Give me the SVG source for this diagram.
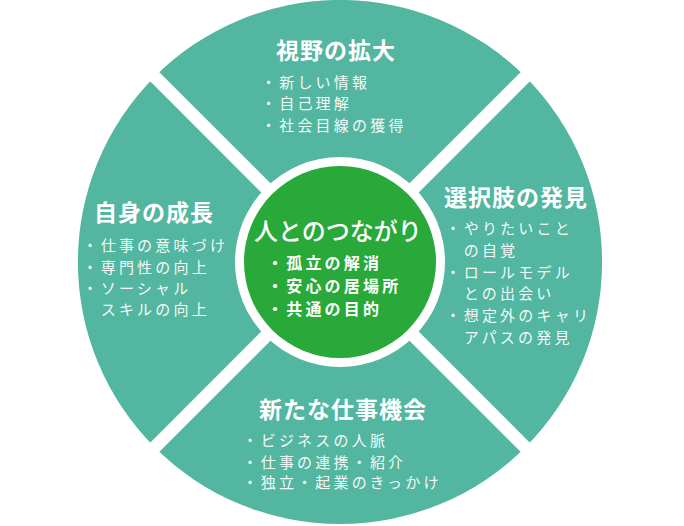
<svg xmlns="http://www.w3.org/2000/svg" width="684" height="526" viewBox="0 0 684 526">
<style>
.sector{fill:#52B6A0}
.sep{stroke:#FFFFFF;stroke-width:13;fill:none}
text{font-family:"Noto Sans CJK JP","Noto Sans CJK SC",sans-serif;fill:#FFFFFF}
.title{font-size:23px;font-weight:700;letter-spacing:1px}
.item{font-size:15px;font-weight:400;letter-spacing:3.2px;fill:#F4FAF8}
.ctitle{font-size:24px;font-weight:500}
.citem{font-size:16px;font-weight:700;letter-spacing:3.2px}
</style>
<rect width="684" height="526" fill="#FFFFFF"/>
<g id="node-top">
<path class="sector" d="M340,262 L154.7,76.7 A262,262 0 0 1 525.3,76.7 Z"/>
<text class="title" x="276" y="59">視野の拡大</text>
<text class="item" x="261" y="87.7">・新しい情報</text>
<text class="item" x="261" y="108.7">・自己理解</text>
<text class="item" x="261" y="130.7">・社会目線の獲得</text>
</g>
<g id="node-right">
<path class="sector" d="M340,262 L525.3,76.7 A262,262 0 0 1 525.3,447.3 Z"/>
<text class="title" x="444" y="206">選択肢の発見</text>
<text class="item" x="445.5" y="233.7">・やりたいこと</text>
<text class="item" x="463.7" y="255.7">の自覚</text>
<text class="item" x="445.5" y="277.7">・ロールモデル</text>
<text class="item" x="463.7" y="298.7">との出会い</text>
<text class="item" x="445.5" y="320.7">・想定外のキャリ</text>
<text class="item" x="463.7" y="342.7">アパスの発見</text>
</g>
<g id="node-bottom">
<path class="sector" d="M340,262 L525.3,447.3 A262,262 0 0 1 154.7,447.3 Z"/>
<text class="title" x="259" y="418">新たな仕事機会</text>
<text class="item" x="242.5" y="445.7">・ビジネスの人脈</text>
<text class="item" x="242.5" y="467.7">・仕事の連携・紹介</text>
<text class="item" x="242.5" y="487.7">・独立・起業のきっかけ</text>
</g>
<g id="node-left">
<path class="sector" d="M340,262 L154.7,447.3 A262,262 0 0 1 154.7,76.7 Z"/>
<text class="title" x="94" y="221">自身の成長</text>
<text class="item" x="82.5" y="250.7">・仕事の意味づけ</text>
<text class="item" x="82.5" y="272.7">・専門性の向上</text>
<text class="item" x="82.5" y="293.7">・ソーシャル</text>
<text class="item" x="100.7" y="314.7">スキルの向上</text>
</g>
<g id="connectors">
<line class="sep" x1="150" y1="72" x2="530" y2="452"/>
<line class="sep" x1="530" y1="72" x2="150" y2="452"/>
</g>
<g id="node-center">
<circle cx="340" cy="262" r="105" fill="#FFFFFF"/>
<circle cx="340" cy="262" r="96" fill="#28A93A"/>
<text class="ctitle" x="254" y="240">人とのつながり</text>
<text class="citem" x="267" y="268.6">・孤立の解消</text>
<text class="citem" x="267" y="291.9">・安心の居場所</text>
<text class="citem" x="267" y="315.2">・共通の目的</text>
</g>
</svg>
